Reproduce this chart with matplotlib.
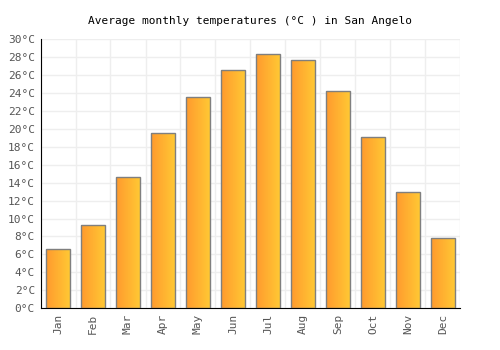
import numpy as np
import matplotlib
matplotlib.use("Agg")
import matplotlib.pyplot as plt
from matplotlib.colors import LinearSegmentedColormap

months = ["Jan", "Feb", "Mar", "Apr", "May", "Jun",
          "Jul", "Aug", "Sep", "Oct", "Nov", "Dec"]
temps = [6.6, 9.3, 14.6, 19.5, 23.5, 26.6, 28.3, 27.7, 24.2, 19.1, 13.0, 7.8]
yticks = list(range(0, 31, 2))
ylabels = [f"{t}°C" for t in yticks]

plt.rcParams["font.family"] = "DejaVu Sans Mono"

fig = plt.figure(figsize=(5, 3.5), dpi=100)
ax = fig.add_axes([40.5 / 500, 41.7 / 350, 420 / 500, 269.3 / 350])

grad = LinearSegmentedColormap.from_list("bar", ["#ff9a2e", "#ffc834"])
gimg = np.linspace(0, 1, 64).reshape(1, -1)

x = np.arange(len(months))
bars = ax.bar(x, temps, width=0.66, facecolor="none",
              edgecolor="#7f7f7f", linewidth=1, zorder=3)
for b in bars:
    bx, by = b.get_x(), b.get_y()
    im = ax.imshow(gimg, cmap=grad, aspect="auto", zorder=2,
                   extent=[bx, bx + b.get_width(), by, by + b.get_height()])
    im.set_clip_path(b)

ax.set_xlim(-0.5, 11.5)
ax.set_ylim(0, 30)
ax.set_xticks(x)
ax.set_xticklabels(months, rotation=90)
ax.set_yticks(yticks)
ax.set_yticklabels(ylabels)
ax.set_xticks(np.arange(-0.5, 12, 1), minor=True)
ax.grid(True, which="minor", axis="x", color="#eeeeee", lw=1)
ax.grid(True, which="major", axis="y", color="#eeeeee", lw=1)
ax.set_axisbelow(True)
ax.tick_params(axis="both", which="both", length=0, labelsize=8,
               labelcolor="#555555", pad=4)
for s in ["top", "right"]:
    ax.spines[s].set_visible(False)
ax.spines["left"].set_color("black")
ax.spines["bottom"].set_color("black")

fig.suptitle("Average monthly temperatures (°C ) in San Angelo",
             fontsize=8, y=0.955)

fig.savefig("out.png", dpi=100)
